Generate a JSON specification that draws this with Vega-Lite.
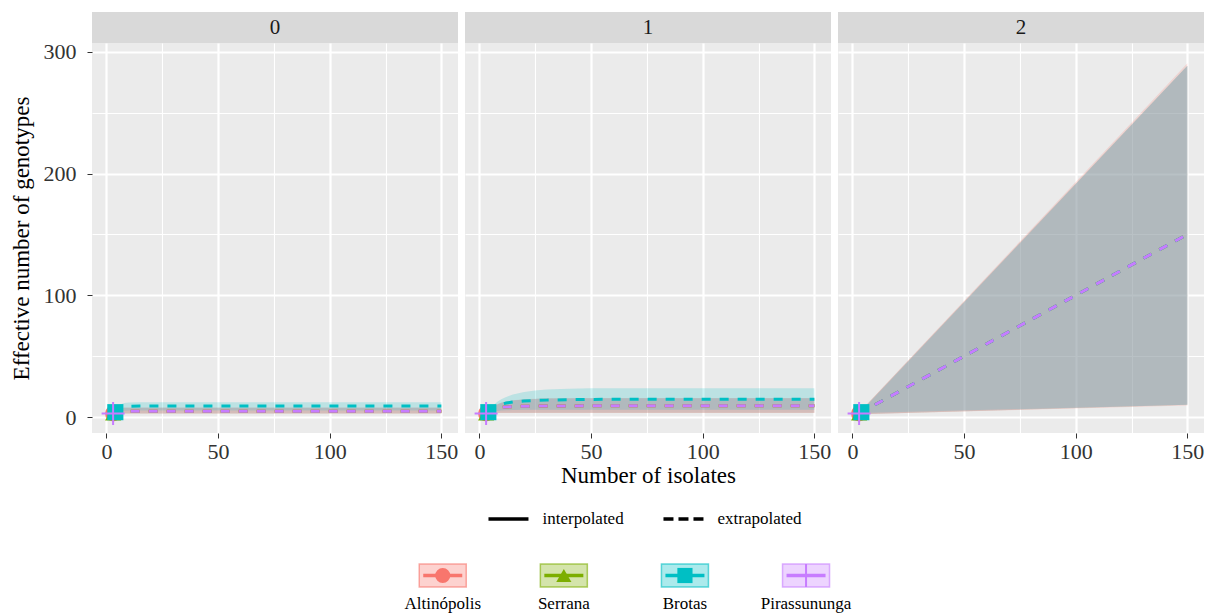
{
  "$schema": "https://vega.github.io/schema/vega-lite/v6.json",
  "padding": {"left": 10, "top": 12, "right": 6, "bottom": 2},
  "background": "#FFFFFF",
  "config": {
    "font": "Liberation Serif",
    "view": {"stroke": null},
    "legend": {"disable": true},
    "axis": {
      "labelFont": "Liberation Serif",
      "labelFontSize": 22,
      "labelColor": "#333333",
      "titleFont": "Liberation Serif",
      "titleFontSize": 23,
      "titleFontWeight": "normal",
      "titleColor": "#000000",
      "domain": false,
      "tickColor": "#333333"
    },
    "text": {"font": "Liberation Serif"}
  },
  "datasets": {
    "rows": [
      {"s":"Altinópolis","q":0,"t":"interpolated","m":1,"d":1,"lo":1,"hi":1},
      {"s":"Altinópolis","q":0,"t":"interpolated","m":2,"d":2,"lo":1.6,"hi":2.4},
      {"s":"Altinópolis","q":0,"t":"interpolated","m":3,"d":3,"lo":2.3,"hi":3.7},
      {"s":"Altinópolis","q":0,"t":"extrapolated","m":3,"d":3,"lo":2.3,"hi":3.7},
      {"s":"Altinópolis","q":0,"t":"extrapolated","m":4,"d":4.1,"lo":2.7,"hi":5.8},
      {"s":"Altinópolis","q":0,"t":"extrapolated","m":5,"d":4.5,"lo":2.9,"hi":6.9},
      {"s":"Altinópolis","q":0,"t":"extrapolated","m":6,"d":4.6,"lo":2.9,"hi":7.5},
      {"s":"Altinópolis","q":0,"t":"extrapolated","m":8,"d":4.7,"lo":2.9,"hi":7.9},
      {"s":"Altinópolis","q":0,"t":"extrapolated","m":150,"d":4.7,"lo":2.9,"hi":7.9},
      {"s":"Serrana","q":0,"t":"interpolated","m":1,"d":1,"lo":1,"hi":1},
      {"s":"Serrana","q":0,"t":"interpolated","m":2,"d":2,"lo":1.6,"hi":2.4},
      {"s":"Serrana","q":0,"t":"interpolated","m":3,"d":3,"lo":2.4,"hi":3.6},
      {"s":"Serrana","q":0,"t":"extrapolated","m":3,"d":3,"lo":2.4,"hi":3.6},
      {"s":"Serrana","q":0,"t":"extrapolated","m":4,"d":4.1,"lo":2.8,"hi":5.6},
      {"s":"Serrana","q":0,"t":"extrapolated","m":5,"d":4.5,"lo":3,"hi":6.7},
      {"s":"Serrana","q":0,"t":"extrapolated","m":6,"d":4.6,"lo":3,"hi":7.3},
      {"s":"Serrana","q":0,"t":"extrapolated","m":8,"d":4.7,"lo":3,"hi":7.7},
      {"s":"Serrana","q":0,"t":"extrapolated","m":150,"d":4.7,"lo":3,"hi":7.7},
      {"s":"Brotas","q":0,"t":"interpolated","m":1,"d":1,"lo":1,"hi":1},
      {"s":"Brotas","q":0,"t":"interpolated","m":2,"d":2,"lo":1.7,"hi":2.3},
      {"s":"Brotas","q":0,"t":"interpolated","m":3,"d":3,"lo":2.5,"hi":3.5},
      {"s":"Brotas","q":0,"t":"interpolated","m":4,"d":4,"lo":3.3,"hi":4.7},
      {"s":"Brotas","q":0,"t":"extrapolated","m":4,"d":4,"lo":3.3,"hi":4.7},
      {"s":"Brotas","q":0,"t":"extrapolated","m":5,"d":6.3,"lo":4.5,"hi":8.6},
      {"s":"Brotas","q":0,"t":"extrapolated","m":6,"d":7.4,"lo":5,"hi":10.3},
      {"s":"Brotas","q":0,"t":"extrapolated","m":8,"d":8.4,"lo":5.2,"hi":11.6},
      {"s":"Brotas","q":0,"t":"extrapolated","m":10,"d":8.8,"lo":5.3,"hi":12},
      {"s":"Brotas","q":0,"t":"extrapolated","m":15,"d":9,"lo":5.3,"hi":12.2},
      {"s":"Brotas","q":0,"t":"extrapolated","m":150,"d":9,"lo":5.3,"hi":12.2},
      {"s":"Pirassununga","q":0,"t":"interpolated","m":1,"d":1,"lo":1,"hi":1},
      {"s":"Pirassununga","q":0,"t":"interpolated","m":2,"d":2,"lo":1.6,"hi":2.4},
      {"s":"Pirassununga","q":0,"t":"interpolated","m":3,"d":3,"lo":2.4,"hi":3.6},
      {"s":"Pirassununga","q":0,"t":"extrapolated","m":3,"d":3,"lo":2.4,"hi":3.6},
      {"s":"Pirassununga","q":0,"t":"extrapolated","m":4,"d":4.1,"lo":2.8,"hi":5.6},
      {"s":"Pirassununga","q":0,"t":"extrapolated","m":5,"d":4.5,"lo":3,"hi":6.7},
      {"s":"Pirassununga","q":0,"t":"extrapolated","m":6,"d":4.6,"lo":3,"hi":7.3},
      {"s":"Pirassununga","q":0,"t":"extrapolated","m":8,"d":4.7,"lo":3,"hi":7.7},
      {"s":"Pirassununga","q":0,"t":"extrapolated","m":150,"d":4.7,"lo":3,"hi":7.7},

      {"s":"Altinópolis","q":1,"t":"interpolated","m":1,"d":1,"lo":1,"hi":1},
      {"s":"Altinópolis","q":1,"t":"interpolated","m":2,"d":2,"lo":1.6,"hi":2.4},
      {"s":"Altinópolis","q":1,"t":"interpolated","m":3,"d":3,"lo":2.3,"hi":3.7},
      {"s":"Altinópolis","q":1,"t":"extrapolated","m":3,"d":3,"lo":2.3,"hi":3.7},
      {"s":"Altinópolis","q":1,"t":"extrapolated","m":4,"d":4.4,"lo":2.8,"hi":6},
      {"s":"Altinópolis","q":1,"t":"extrapolated","m":5,"d":5.4,"lo":3.1,"hi":7.5},
      {"s":"Altinópolis","q":1,"t":"extrapolated","m":6,"d":6.2,"lo":3.2,"hi":8.7},
      {"s":"Altinópolis","q":1,"t":"extrapolated","m":8,"d":7.2,"lo":3.3,"hi":10.6},
      {"s":"Altinópolis","q":1,"t":"extrapolated","m":10,"d":7.9,"lo":3.4,"hi":11.9},
      {"s":"Altinópolis","q":1,"t":"extrapolated","m":12,"d":8.3,"lo":3.4,"hi":12.8},
      {"s":"Altinópolis","q":1,"t":"extrapolated","m":15,"d":8.6,"lo":3.4,"hi":13.8},
      {"s":"Altinópolis","q":1,"t":"extrapolated","m":20,"d":8.9,"lo":3.4,"hi":14.7},
      {"s":"Altinópolis","q":1,"t":"extrapolated","m":30,"d":9.1,"lo":3.4,"hi":15.4},
      {"s":"Altinópolis","q":1,"t":"extrapolated","m":50,"d":9.2,"lo":3.4,"hi":15.7},
      {"s":"Altinópolis","q":1,"t":"extrapolated","m":150,"d":9.2,"lo":3.4,"hi":15.7},
      {"s":"Serrana","q":1,"t":"interpolated","m":1,"d":1,"lo":1,"hi":1},
      {"s":"Serrana","q":1,"t":"interpolated","m":2,"d":2,"lo":1.6,"hi":2.4},
      {"s":"Serrana","q":1,"t":"interpolated","m":3,"d":3,"lo":2.4,"hi":3.6},
      {"s":"Serrana","q":1,"t":"extrapolated","m":3,"d":3,"lo":2.4,"hi":3.6},
      {"s":"Serrana","q":1,"t":"extrapolated","m":4,"d":4.4,"lo":3,"hi":5.8},
      {"s":"Serrana","q":1,"t":"extrapolated","m":5,"d":5.4,"lo":3.3,"hi":7.3},
      {"s":"Serrana","q":1,"t":"extrapolated","m":6,"d":6.2,"lo":3.4,"hi":8.5},
      {"s":"Serrana","q":1,"t":"extrapolated","m":8,"d":7.2,"lo":3.5,"hi":10.4},
      {"s":"Serrana","q":1,"t":"extrapolated","m":10,"d":7.9,"lo":3.6,"hi":11.7},
      {"s":"Serrana","q":1,"t":"extrapolated","m":12,"d":8.3,"lo":3.6,"hi":12.6},
      {"s":"Serrana","q":1,"t":"extrapolated","m":15,"d":8.6,"lo":3.6,"hi":13.6},
      {"s":"Serrana","q":1,"t":"extrapolated","m":20,"d":8.9,"lo":3.6,"hi":14.5},
      {"s":"Serrana","q":1,"t":"extrapolated","m":30,"d":9.1,"lo":3.6,"hi":15.2},
      {"s":"Serrana","q":1,"t":"extrapolated","m":50,"d":9.2,"lo":3.6,"hi":15.5},
      {"s":"Serrana","q":1,"t":"extrapolated","m":150,"d":9.2,"lo":3.6,"hi":15.5},
      {"s":"Brotas","q":1,"t":"interpolated","m":1,"d":1,"lo":1,"hi":1},
      {"s":"Brotas","q":1,"t":"interpolated","m":2,"d":2,"lo":1.7,"hi":2.3},
      {"s":"Brotas","q":1,"t":"interpolated","m":3,"d":3,"lo":2.5,"hi":3.5},
      {"s":"Brotas","q":1,"t":"interpolated","m":4,"d":4,"lo":3.3,"hi":4.7},
      {"s":"Brotas","q":1,"t":"extrapolated","m":4,"d":4,"lo":3.3,"hi":4.7},
      {"s":"Brotas","q":1,"t":"extrapolated","m":5,"d":5.8,"lo":4.2,"hi":7},
      {"s":"Brotas","q":1,"t":"extrapolated","m":6,"d":7.2,"lo":4.6,"hi":9},
      {"s":"Brotas","q":1,"t":"extrapolated","m":8,"d":9.2,"lo":5,"hi":12.5},
      {"s":"Brotas","q":1,"t":"extrapolated","m":10,"d":10.6,"lo":5.3,"hi":14.8},
      {"s":"Brotas","q":1,"t":"extrapolated","m":12,"d":11.5,"lo":5.5,"hi":16.5},
      {"s":"Brotas","q":1,"t":"extrapolated","m":15,"d":12.4,"lo":5.7,"hi":18.5},
      {"s":"Brotas","q":1,"t":"extrapolated","m":20,"d":13.2,"lo":5.9,"hi":20.6},
      {"s":"Brotas","q":1,"t":"extrapolated","m":25,"d":13.6,"lo":6,"hi":21.8},
      {"s":"Brotas","q":1,"t":"extrapolated","m":30,"d":13.9,"lo":6,"hi":22.6},
      {"s":"Brotas","q":1,"t":"extrapolated","m":40,"d":14.3,"lo":6,"hi":23.3},
      {"s":"Brotas","q":1,"t":"extrapolated","m":50,"d":14.5,"lo":6,"hi":23.6},
      {"s":"Brotas","q":1,"t":"extrapolated","m":75,"d":14.7,"lo":6,"hi":23.7},
      {"s":"Brotas","q":1,"t":"extrapolated","m":150,"d":14.7,"lo":6,"hi":23.7},
      {"s":"Pirassununga","q":1,"t":"interpolated","m":1,"d":1,"lo":1,"hi":1},
      {"s":"Pirassununga","q":1,"t":"interpolated","m":2,"d":2,"lo":1.6,"hi":2.4},
      {"s":"Pirassununga","q":1,"t":"interpolated","m":3,"d":3,"lo":2.4,"hi":3.6},
      {"s":"Pirassununga","q":1,"t":"extrapolated","m":3,"d":3,"lo":2.4,"hi":3.6},
      {"s":"Pirassununga","q":1,"t":"extrapolated","m":4,"d":4.4,"lo":3,"hi":5.8},
      {"s":"Pirassununga","q":1,"t":"extrapolated","m":5,"d":5.4,"lo":3.3,"hi":7.3},
      {"s":"Pirassununga","q":1,"t":"extrapolated","m":6,"d":6.2,"lo":3.4,"hi":8.5},
      {"s":"Pirassununga","q":1,"t":"extrapolated","m":8,"d":7.2,"lo":3.5,"hi":10.4},
      {"s":"Pirassununga","q":1,"t":"extrapolated","m":10,"d":7.9,"lo":3.6,"hi":11.7},
      {"s":"Pirassununga","q":1,"t":"extrapolated","m":12,"d":8.3,"lo":3.6,"hi":12.6},
      {"s":"Pirassununga","q":1,"t":"extrapolated","m":15,"d":8.6,"lo":3.6,"hi":13.6},
      {"s":"Pirassununga","q":1,"t":"extrapolated","m":20,"d":8.9,"lo":3.6,"hi":14.5},
      {"s":"Pirassununga","q":1,"t":"extrapolated","m":30,"d":9.1,"lo":3.6,"hi":15.2},
      {"s":"Pirassununga","q":1,"t":"extrapolated","m":50,"d":9.2,"lo":3.6,"hi":15.5},
      {"s":"Pirassununga","q":1,"t":"extrapolated","m":150,"d":9.2,"lo":3.6,"hi":15.5},

      {"s":"Altinópolis","q":2,"t":"interpolated","m":1,"d":1,"lo":1,"hi":1},
      {"s":"Altinópolis","q":2,"t":"interpolated","m":2,"d":2,"lo":1.6,"hi":2.4},
      {"s":"Altinópolis","q":2,"t":"interpolated","m":3,"d":3,"lo":2.3,"hi":3.7},
      {"s":"Altinópolis","q":2,"t":"extrapolated","m":3,"d":3,"lo":2.3,"hi":3.7},
      {"s":"Altinópolis","q":2,"t":"extrapolated","m":150,"d":150,"lo":9.4,"hi":290.6},
      {"s":"Serrana","q":2,"t":"interpolated","m":1,"d":1,"lo":1,"hi":1},
      {"s":"Serrana","q":2,"t":"interpolated","m":2,"d":2,"lo":1.6,"hi":2.4},
      {"s":"Serrana","q":2,"t":"interpolated","m":3,"d":3,"lo":2.4,"hi":3.6},
      {"s":"Serrana","q":2,"t":"extrapolated","m":3,"d":3,"lo":2.4,"hi":3.6},
      {"s":"Serrana","q":2,"t":"extrapolated","m":150,"d":150,"lo":10,"hi":288.5},
      {"s":"Brotas","q":2,"t":"interpolated","m":1,"d":1,"lo":1,"hi":1},
      {"s":"Brotas","q":2,"t":"interpolated","m":2,"d":2,"lo":1.7,"hi":2.3},
      {"s":"Brotas","q":2,"t":"interpolated","m":3,"d":3,"lo":2.5,"hi":3.5},
      {"s":"Brotas","q":2,"t":"interpolated","m":4,"d":4,"lo":3.3,"hi":4.7},
      {"s":"Brotas","q":2,"t":"extrapolated","m":4,"d":4,"lo":3.3,"hi":4.7},
      {"s":"Brotas","q":2,"t":"extrapolated","m":150,"d":150,"lo":10,"hi":288.5},
      {"s":"Pirassununga","q":2,"t":"interpolated","m":1,"d":1,"lo":1,"hi":1},
      {"s":"Pirassununga","q":2,"t":"interpolated","m":2,"d":2,"lo":1.6,"hi":2.4},
      {"s":"Pirassununga","q":2,"t":"interpolated","m":3,"d":3,"lo":2.4,"hi":3.6},
      {"s":"Pirassununga","q":2,"t":"extrapolated","m":3,"d":3,"lo":2.4,"hi":3.6},
      {"s":"Pirassununga","q":2,"t":"extrapolated","m":150,"d":150,"lo":10,"hi":288.5},

      {"s":"Altinópolis","q":0,"t":"observed","m":3,"d":3,"lo":3,"hi":3},
      {"s":"Serrana","q":0,"t":"observed","m":3,"d":3,"lo":3,"hi":3},
      {"s":"Brotas","q":0,"t":"observed","m":4,"d":4,"lo":4,"hi":4},
      {"s":"Pirassununga","q":0,"t":"observed","m":3,"d":3,"lo":3,"hi":3},
      {"s":"Altinópolis","q":1,"t":"observed","m":3,"d":3,"lo":3,"hi":3},
      {"s":"Serrana","q":1,"t":"observed","m":3,"d":3,"lo":3,"hi":3},
      {"s":"Brotas","q":1,"t":"observed","m":4,"d":4,"lo":4,"hi":4},
      {"s":"Pirassununga","q":1,"t":"observed","m":3,"d":3,"lo":3,"hi":3},
      {"s":"Altinópolis","q":2,"t":"observed","m":3,"d":3,"lo":3,"hi":3},
      {"s":"Serrana","q":2,"t":"observed","m":3,"d":3,"lo":3,"hi":3},
      {"s":"Brotas","q":2,"t":"observed","m":4,"d":4,"lo":4,"hi":4},
      {"s":"Pirassununga","q":2,"t":"observed","m":3,"d":3,"lo":3,"hi":3}
    ]
  },
  "spacing": 20,
  "center": true,
  "vconcat": [
    {
      "columns": 3,
      "spacing": {"row": 0, "column": 7},
      "bounds": "flush",
      "concat": [
        {"width": 366, "height": 31, "view": {"fill": "#D9D9D9", "stroke": null},
         "data": {"values": [{"q": "0"}]},
         "mark": {"type": "text", "fontSize": 21, "font": "Liberation Serif", "color": "#1A1A1A", "baseline": "middle"},
         "encoding": {"text": {"field": "q"}}},
        {"width": 366, "height": 31, "view": {"fill": "#D9D9D9", "stroke": null},
         "data": {"values": [{"q": "1"}]},
         "mark": {"type": "text", "fontSize": 21, "font": "Liberation Serif", "color": "#1A1A1A", "baseline": "middle"},
         "encoding": {"text": {"field": "q"}}},
        {"width": 366, "height": 31, "view": {"fill": "#D9D9D9", "stroke": null},
         "data": {"values": [{"q": "2"}]},
         "mark": {"type": "text", "fontSize": 21, "font": "Liberation Serif", "color": "#1A1A1A", "baseline": "middle"},
         "encoding": {"text": {"field": "q"}}},

        {"width": 366, "height": 390, "view": {"fill": "#EBEBEB", "stroke": null},
         "data": {"name": "rows"},
         "transform": [{"filter": "datum.q === 0"}],
         "encoding": {
           "x": {"field": "m", "type": "quantitative", "scale": {"domain": [-6.45, 157.45], "nice": false, "zero": false},
                 "axis": {"values": [0,25,50,75,100,125,150], "labelExpr": "datum.value % 50 === 0 ? datum.label : ''",
                          "labelFlush": false, "labelOverlap": false, "gridColor": "#FFFFFF",
                          "gridWidth": {"condition": {"test": "datum.value % 50 === 0", "value": 2.2}, "value": 1.1},
                          "tickOpacity": {"condition": {"test": "datum.value % 50 === 0", "value": 1}, "value": 0},
                          "tickSize": 5, "tickWidth": 1, "labelPadding": 3, "title": null}},
           "color": {"field": "s", "type": "nominal", "scale": {"domain": ["Altinópolis","Serrana","Brotas","Pirassununga"], "range": ["#F8766D","#7CAE00","#00BFC4","#C77CFF"]}}
         },
         "layer": [
           {"transform": [{"filter": "datum.t !== 'observed'"}],
            "mark": {"type": "area", "fillOpacity": 0.2},
            "encoding": {
              "y": {"field": "lo", "type": "quantitative", "scale": {"domain": [-13.1, 307.2], "nice": false, "zero": false},
                    "axis": {"values": [0,50,100,150,200,250,300], "labelExpr": "datum.value % 100 === 0 ? datum.label : ''",
                             "gridColor": "#FFFFFF",
                             "gridWidth": {"condition": {"test": "datum.value % 100 === 0", "value": 2.2}, "value": 1.1},
                             "tickOpacity": {"condition": {"test": "datum.value % 100 === 0", "value": 1}, "value": 0},
                             "tickSize": 5, "tickWidth": 1, "labelPadding": 11,
                             "title": "Effective number of genotypes", "titlePadding": 10}},
              "y2": {"field": "hi"}}},
           {"transform": [{"filter": "datum.t !== 'observed' && datum.s !== 'Pirassununga'"}],
            "mark": {"type": "line", "strokeWidth": 3},
            "encoding": {
              "y": {"field": "d", "type": "quantitative", "scale": {"domain": [-13.1, 307.2], "nice": false, "zero": false}},
              "strokeDash": {"field": "t", "type": "nominal", "scale": {"domain": ["interpolated","extrapolated"], "range": [[1,0],[9,9]]}}}},
           {"transform": [{"filter": "datum.t !== 'observed' && datum.s === 'Pirassununga'"}],
            "mark": {"type": "line", "strokeWidth": 3},
            "encoding": {
              "y": {"field": "d", "type": "quantitative", "scale": {"domain": [-13.1, 307.2], "nice": false, "zero": false}},
              "strokeDash": {"field": "t", "type": "nominal", "scale": {"domain": ["interpolated","extrapolated"], "range": [[1,0],[9,9]]}}}},
           {"transform": [{"filter": "datum.t === 'observed' && datum.s !== 'Pirassununga'"}],
            "mark": {"type": "point", "filled": true, "size": 260, "opacity": 1},
            "encoding": {
              "y": {"field": "d", "type": "quantitative", "scale": {"domain": [-13.1, 307.2], "nice": false, "zero": false}},
              "shape": {"field": "s", "type": "nominal", "scale": {"domain": ["Altinópolis","Serrana","Brotas"], "range": ["circle","triangle-up","square"]}}}},
           {"transform": [{"filter": "datum.t === 'observed' && datum.s === 'Pirassununga'"}],
            "mark": {"type": "point", "shape": "M-1,0H1M0,-1V1", "filled": false, "size": 529, "strokeWidth": 2, "opacity": 1},
            "encoding": {
              "y": {"field": "d", "type": "quantitative", "scale": {"domain": [-13.1, 307.2], "nice": false, "zero": false}}}}
         ]},

        {"width": 366, "height": 390, "view": {"fill": "#EBEBEB", "stroke": null},
         "data": {"name": "rows"},
         "transform": [{"filter": "datum.q === 1"}],
         "encoding": {
           "x": {"field": "m", "type": "quantitative", "scale": {"domain": [-6.45, 157.45], "nice": false, "zero": false},
                 "axis": {"values": [0,25,50,75,100,125,150], "labelExpr": "datum.value % 50 === 0 ? datum.label : ''",
                          "labelFlush": false, "labelOverlap": false, "gridColor": "#FFFFFF",
                          "gridWidth": {"condition": {"test": "datum.value % 50 === 0", "value": 2.2}, "value": 1.1},
                          "tickOpacity": {"condition": {"test": "datum.value % 50 === 0", "value": 1}, "value": 0},
                          "tickSize": 5, "tickWidth": 1, "labelPadding": 3,
                          "title": "Number of isolates", "titlePadding": 2}},
           "color": {"field": "s", "type": "nominal", "scale": {"domain": ["Altinópolis","Serrana","Brotas","Pirassununga"], "range": ["#F8766D","#7CAE00","#00BFC4","#C77CFF"]}}
         },
         "layer": [
           {"transform": [{"filter": "datum.t !== 'observed'"}],
            "mark": {"type": "area", "fillOpacity": 0.2},
            "encoding": {
              "y": {"field": "lo", "type": "quantitative", "scale": {"domain": [-13.1, 307.2], "nice": false, "zero": false},
                    "axis": {"values": [0,50,100,150,200,250,300], "labels": false, "ticks": false, "title": null,
                             "gridColor": "#FFFFFF",
                             "gridWidth": {"condition": {"test": "datum.value % 100 === 0", "value": 2.2}, "value": 1.1}}},
              "y2": {"field": "hi"}}},
           {"transform": [{"filter": "datum.t !== 'observed' && datum.s !== 'Pirassununga'"}],
            "mark": {"type": "line", "strokeWidth": 3},
            "encoding": {
              "y": {"field": "d", "type": "quantitative", "scale": {"domain": [-13.1, 307.2], "nice": false, "zero": false}},
              "strokeDash": {"field": "t", "type": "nominal", "scale": {"domain": ["interpolated","extrapolated"], "range": [[1,0],[9,9]]}}}},
           {"transform": [{"filter": "datum.t !== 'observed' && datum.s === 'Pirassununga'"}],
            "mark": {"type": "line", "strokeWidth": 3},
            "encoding": {
              "y": {"field": "d", "type": "quantitative", "scale": {"domain": [-13.1, 307.2], "nice": false, "zero": false}},
              "strokeDash": {"field": "t", "type": "nominal", "scale": {"domain": ["interpolated","extrapolated"], "range": [[1,0],[9,9]]}}}},
           {"transform": [{"filter": "datum.t === 'observed' && datum.s !== 'Pirassununga'"}],
            "mark": {"type": "point", "filled": true, "size": 260, "opacity": 1},
            "encoding": {
              "y": {"field": "d", "type": "quantitative", "scale": {"domain": [-13.1, 307.2], "nice": false, "zero": false}},
              "shape": {"field": "s", "type": "nominal", "scale": {"domain": ["Altinópolis","Serrana","Brotas"], "range": ["circle","triangle-up","square"]}}}},
           {"transform": [{"filter": "datum.t === 'observed' && datum.s === 'Pirassununga'"}],
            "mark": {"type": "point", "shape": "M-1,0H1M0,-1V1", "filled": false, "size": 529, "strokeWidth": 2, "opacity": 1},
            "encoding": {
              "y": {"field": "d", "type": "quantitative", "scale": {"domain": [-13.1, 307.2], "nice": false, "zero": false}}}}
         ]},

        {"width": 366, "height": 390, "view": {"fill": "#EBEBEB", "stroke": null},
         "data": {"name": "rows"},
         "transform": [{"filter": "datum.q === 2"}],
         "encoding": {
           "x": {"field": "m", "type": "quantitative", "scale": {"domain": [-6.45, 157.45], "nice": false, "zero": false},
                 "axis": {"values": [0,25,50,75,100,125,150], "labelExpr": "datum.value % 50 === 0 ? datum.label : ''",
                          "labelFlush": false, "labelOverlap": false, "gridColor": "#FFFFFF",
                          "gridWidth": {"condition": {"test": "datum.value % 50 === 0", "value": 2.2}, "value": 1.1},
                          "tickOpacity": {"condition": {"test": "datum.value % 50 === 0", "value": 1}, "value": 0},
                          "tickSize": 5, "tickWidth": 1, "labelPadding": 3, "title": null}},
           "color": {"field": "s", "type": "nominal", "scale": {"domain": ["Altinópolis","Serrana","Brotas","Pirassununga"], "range": ["#F8766D","#7CAE00","#00BFC4","#C77CFF"]}}
         },
         "layer": [
           {"transform": [{"filter": "datum.t !== 'observed'"}],
            "mark": {"type": "area", "fillOpacity": 0.2},
            "encoding": {
              "y": {"field": "lo", "type": "quantitative", "scale": {"domain": [-13.1, 307.2], "nice": false, "zero": false},
                    "axis": {"values": [0,50,100,150,200,250,300], "labels": false, "ticks": false, "title": null,
                             "gridColor": "#FFFFFF",
                             "gridWidth": {"condition": {"test": "datum.value % 100 === 0", "value": 2.2}, "value": 1.1}}},
              "y2": {"field": "hi"}}},
           {"transform": [{"filter": "datum.t !== 'observed' && (datum.s === 'Altinópolis' || datum.s === 'Serrana')"}],
            "mark": {"type": "line", "strokeWidth": 3},
            "encoding": {
              "y": {"field": "d", "type": "quantitative", "scale": {"domain": [-13.1, 307.2], "nice": false, "zero": false}},
              "strokeDash": {"field": "t", "type": "nominal", "scale": {"domain": ["interpolated","extrapolated"], "range": [[1,0],[9,9]]}}}},
           {"transform": [{"filter": "datum.t !== 'observed' && datum.s === 'Brotas'"}],
            "mark": {"type": "line", "strokeWidth": 3, "strokeDashOffset": 2.54},
            "encoding": {
              "y": {"field": "d", "type": "quantitative", "scale": {"domain": [-13.1, 307.2], "nice": false, "zero": false}},
              "strokeDash": {"field": "t", "type": "nominal", "scale": {"domain": ["interpolated","extrapolated"], "range": [[1,0],[9,9]]}}}},
           {"transform": [{"filter": "datum.t !== 'observed' && datum.s === 'Pirassununga'"}],
            "mark": {"type": "line", "strokeWidth": 3},
            "encoding": {
              "y": {"field": "d", "type": "quantitative", "scale": {"domain": [-13.1, 307.2], "nice": false, "zero": false}},
              "strokeDash": {"field": "t", "type": "nominal", "scale": {"domain": ["interpolated","extrapolated"], "range": [[1,0],[9,9]]}}}},
           {"transform": [{"filter": "datum.t === 'observed' && datum.s !== 'Pirassununga'"}],
            "mark": {"type": "point", "filled": true, "size": 260, "opacity": 1},
            "encoding": {
              "y": {"field": "d", "type": "quantitative", "scale": {"domain": [-13.1, 307.2], "nice": false, "zero": false}},
              "shape": {"field": "s", "type": "nominal", "scale": {"domain": ["Altinópolis","Serrana","Brotas"], "range": ["circle","triangle-up","square"]}}}},
           {"transform": [{"filter": "datum.t === 'observed' && datum.s === 'Pirassununga'"}],
            "mark": {"type": "point", "shape": "M-1,0H1M0,-1V1", "filled": false, "size": 529, "strokeWidth": 2, "opacity": 1},
            "encoding": {
              "y": {"field": "d", "type": "quantitative", "scale": {"domain": [-13.1, 307.2], "nice": false, "zero": false}}}}
         ]}
      ]
    },
    {
      "spacing": 29,
      "center": true,
      "vconcat": [
        {"width": 525, "height": 24,
         "data": {"values": [{"t": "interpolated"}, {"t": "extrapolated"}]},
         "encoding": {"x": {"field": "t", "type": "nominal", "axis": null,
                            "scale": {"type": "point", "domain": ["interpolated","extrapolated"], "padding": 1, "align": 0.351}}},
         "layer": [
           {"transform": [{"filter": "datum.t === 'interpolated'"}],
            "mark": {"type": "point", "shape": "M-1,0H1", "size": 1600, "filled": false, "strokeWidth": 3.5, "color": "#000000", "opacity": 1}},
           {"transform": [{"filter": "datum.t === 'extrapolated'"}],
            "mark": {"type": "point", "shape": "M-1,0H1", "size": 1600, "filled": false, "strokeWidth": 3.5, "color": "#000000", "strokeDash": [10,5], "opacity": 1}},
           {"mark": {"type": "text", "align": "left", "dx": 34, "fontSize": 17, "font": "Liberation Serif", "color": "#000000"},
            "encoding": {"text": {"field": "t"}}}
         ]},
        {"width": 605.5, "height": 23,
         "data": {"values": [{"s": "Altinópolis"}, {"s": "Serrana"}, {"s": "Brotas"}, {"s": "Pirassununga"}]},
         "encoding": {
           "x": {"field": "s", "type": "nominal", "axis": null,
                 "scale": {"type": "point", "domain": ["Altinópolis","Serrana","Brotas","Pirassununga"], "padding": 1, "align": 0.402}},
           "color": {"field": "s", "type": "nominal", "scale": {"domain": ["Altinópolis","Serrana","Brotas","Pirassununga"], "range": ["#F8766D","#7CAE00","#00BFC4","#C77CFF"]}}
         },
         "layer": [
           {"mark": {"type": "point", "shape": "M-1,-0.49H1V0.49H-1Z", "size": 2209, "filled": true, "opacity": 0.33}},
           {"mark": {"type": "point", "shape": "M-1,-0.49H1V0.49H-1Z", "size": 2209, "filled": false, "strokeWidth": 1.5, "opacity": 0.6}},
           {"mark": {"type": "point", "shape": "M-1,0H1", "size": 1521, "filled": false, "strokeWidth": 3.5, "opacity": 1}},
           {"transform": [{"filter": "datum.s !== 'Pirassununga'"}],
            "mark": {"type": "point", "filled": true, "size": 230, "opacity": 1},
            "encoding": {"shape": {"field": "s", "type": "nominal", "scale": {"domain": ["Altinópolis","Serrana","Brotas"], "range": ["circle","triangle-up","square"]}}}},
           {"transform": [{"filter": "datum.s === 'Pirassununga'"}],
            "mark": {"type": "point", "shape": "M-1,0H1M0,-1V1", "filled": false, "size": 529, "strokeWidth": 2, "opacity": 1}},
           {"mark": {"type": "text", "dy": 28, "fontSize": 17, "font": "Liberation Serif"},
            "encoding": {"text": {"field": "s"}, "color": {"value": "#000000"}}}
         ]}
      ]
    }
  ]
}
